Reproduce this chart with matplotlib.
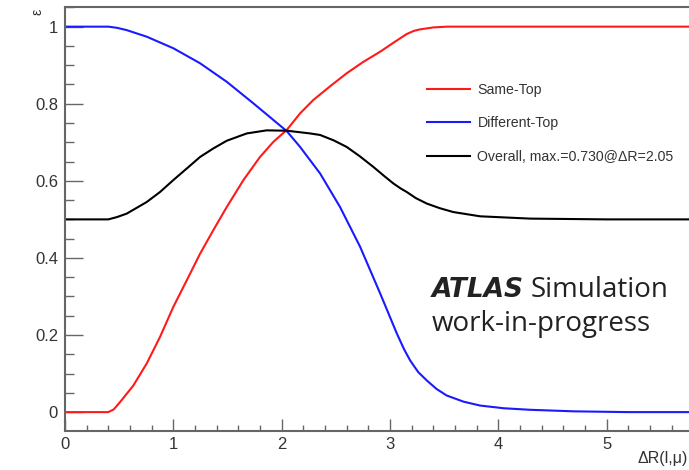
import numpy as np
import matplotlib.pyplot as plt
from matplotlib.ticker import MultipleLocator

# Efficiency vs Delta R(l, mu)
dr_same = [0.0, 0.40, 0.45, 0.508, 0.631, 0.754, 0.877, 1.0, 1.124, 1.247, 1.369,
           1.493, 1.647, 1.80, 1.923, 2.047, 2.17, 2.293, 2.45, 2.60, 2.75, 2.909,
           3.03, 3.155, 3.22, 3.278, 3.40, 3.524, 4.0, 5.0, 5.76]
eff_same = [0.0, 0.0, 0.007, 0.026, 0.069, 0.126, 0.195, 0.273, 0.342, 0.411, 0.472,
            0.532, 0.602, 0.662, 0.701, 0.732, 0.775, 0.810, 0.846, 0.879, 0.908, 0.935,
            0.958, 0.981, 0.989, 0.993, 0.998, 1.0, 1.0, 1.0, 1.0]

dr_diff = [0.0, 0.40, 0.48, 0.57, 0.754, 1.0, 1.247, 1.493, 1.739, 1.923, 2.047,
           2.17, 2.355, 2.539, 2.724, 2.909, 3.063, 3.13, 3.186, 3.26, 3.34, 3.43,
           3.524, 3.68, 3.832, 4.05, 4.294, 4.7, 5.2, 5.76]
eff_diff = [1.0, 1.0, 0.997, 0.991, 0.974, 0.944, 0.905, 0.857, 0.801, 0.758, 0.729,
            0.688, 0.619, 0.532, 0.429, 0.308, 0.204, 0.163, 0.134, 0.104, 0.082, 0.060,
            0.043, 0.027, 0.017, 0.010, 0.006, 0.002, 0.0, 0.0]

dr_all = [0.0, 0.40, 0.48, 0.57, 0.754, 0.877, 1.0, 1.124, 1.247, 1.369, 1.493,
          1.678, 1.862, 2.05, 2.262, 2.355, 2.48, 2.60, 2.72, 2.847, 2.94, 3.032,
          3.10, 3.155, 3.24, 3.34, 3.46, 3.585, 3.832, 4.294, 5.0, 5.76]
eff_all = [0.5, 0.5, 0.506, 0.515, 0.545, 0.571, 0.602, 0.632, 0.662, 0.684, 0.704,
           0.723, 0.731, 0.730, 0.723, 0.719, 0.705, 0.688, 0.664, 0.636, 0.614, 0.593,
           0.580, 0.571, 0.555, 0.541, 0.529, 0.519, 0.508, 0.502, 0.5, 0.5]

max_eff = 0.730
max_dr = 2.05

plt.rcParams['font.family'] = ['Liberation Sans', 'DejaVu Sans']
axis_grey = '#666666'
text_grey = '#333333'

fig = plt.figure(figsize=(6.89, 4.70), dpi=100)
ax = fig.add_axes([65/689, 1 - 431/470, 1 - 65/689, 424/470])

ax.plot(dr_same, eff_same, color='#ff1a1a', lw=1.5, label='Same-Top')
ax.plot(dr_diff, eff_diff, color='#1a1aff', lw=1.5, label='Different-Top')
ax.plot(dr_all, eff_all, color='black', lw=1.5,
        label=f'Overall, max.={max_eff:.3f}@\u0394R={max_dr:.2f}')

ax.set_xlim(0, 5.76)
ax.set_ylim(-0.049, 1.051)

ax.xaxis.set_major_locator(MultipleLocator(1))
ax.xaxis.set_minor_locator(MultipleLocator(0.2))
ax.yaxis.set_major_locator(MultipleLocator(0.2))
ax.yaxis.set_minor_locator(MultipleLocator(0.05))
ax.yaxis.set_major_formatter(plt.FuncFormatter(lambda v, p: f'{v:g}'))

ax.tick_params(axis='both', which='both', direction='in', colors=axis_grey,
               labelcolor=text_grey, labelsize=12, width=1.0)
ax.tick_params(axis='y', which='major', length=13, pad=5)
ax.tick_params(axis='y', which='minor', length=6.5)
ax.tick_params(axis='x', which='major', length=8.5, pad=4)
ax.tick_params(axis='x', which='minor', length=4)

for side in ['left', 'bottom', 'top']:
    ax.spines[side].set_color(axis_grey)
    ax.spines[side].set_linewidth(1.5)
ax.spines['right'].set_visible(False)

fig.text(38/689, 1 - 12/470, '\u03b5', rotation=90, fontsize=10, color=text_grey,
         ha='center', va='center')
fig.text(688/689, 1 - 458/470, '\u0394R(l,\u03bc)', fontsize=11.5, color=text_grey,
         ha='right', va='center')

leg = ax.legend(loc='upper left', bbox_to_anchor=(0.56, 0.852), frameon=False,
                fontsize=10.2, handlelength=3.0, labelspacing=1.4, handletextpad=0.55)
for t in leg.get_texts():
    t.set_color(text_grey)

fig.text(432/689, 1 - 297/470, 'ATLAS', fontsize=19, fontweight='bold',
         fontstyle='italic', color='#222222', family=['DejaVu Sans'])
fig.text(531/689, 1 - 297/470, 'Simulation', fontsize=20, color='#222222',
         family=['Open Sans', 'DejaVu Sans'])
fig.text(432/689, 1 - 331/470, 'work-in-progress', fontsize=20, color='#222222',
         family=['Open Sans', 'DejaVu Sans'])

fig.savefig('out.png', dpi=100)
